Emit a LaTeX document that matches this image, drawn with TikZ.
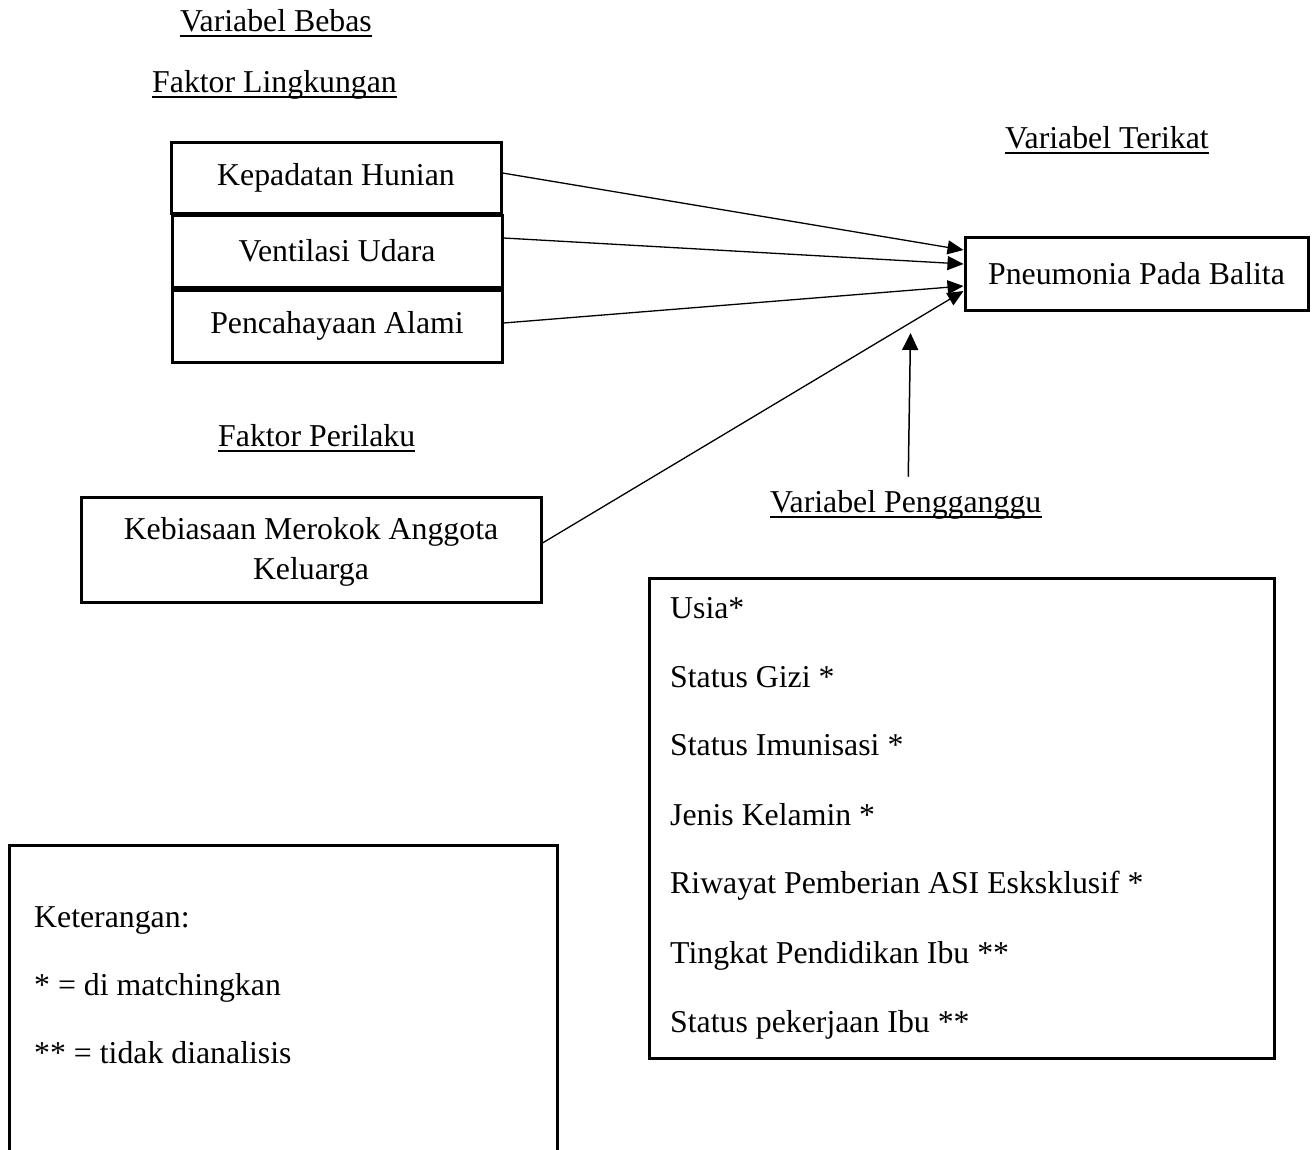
\documentclass[tikz,border=0pt]{standalone}
\usepackage{fontspec}
\setmainfont{Liberation Serif}
\usetikzlibrary{arrows.meta}
\begin{document}
\begin{tikzpicture}[x=1pt,y=-1pt,
  every node/.style={font=\fontsize{31.8}{40}\selectfont, inner sep=0pt},
  box/.style={draw, line width=3pt, rectangle, align=center},
  lbl/.style={anchor=base west},
  ul/.style={line width=1.8pt},
  conn/.style={line width=1.3pt, -{Triangle[length=16pt,width=14pt]}}]
\useasboundingbox (0,0) rectangle (1312,1149);

% titles
\node[lbl] (vb) at (180,31) {Variabel Bebas};
\node[lbl] (fl) at (152,92) {Faktor Lingkungan};
\node[lbl] (vt) at (1005,148) {Variabel Terikat};
\node[lbl] (fp) at (218,446) {Faktor Perilaku};
\node[lbl] (vp) at (770,512) {Variabel Pengganggu};
\foreach \t in {vb,fl,vt,fp,vp}
  \draw[ul] ([yshift=-5pt]\t.base west) -- ([yshift=-5pt]\t.base east);

% boxes
\node[box, minimum width=330pt, minimum height=71pt] (kep) at (336,177.5) {Kepadatan Hunian};
\node[box, minimum width=330pt, minimum height=72pt] (ven) at (337,251) {Ventilasi Udara};
\node[box, minimum width=330pt, minimum height=72pt] (pen) at (337,326) {Pencahayaan Alami};
\node[box, minimum width=343pt, minimum height=73pt] (pn) at (1136.5,273.5) {Pneumonia Pada Balita};
\node[box, minimum width=460pt, minimum height=105pt] (keb) at (311,549.5) {};
\node (kebt) at (311,552) [align=center] {Kebiasaan Merokok Anggota\\Keluarga};
\node[box, minimum width=625pt, minimum height=480pt] (conf) at (961.5,818) {};

% confounders
\node[lbl] (c1) at (670,618) {Usia*};
\node[lbl] (c2) at (670,687) {Status Gizi *};
\node[lbl] (c3) at (670,755) {Status Imunisasi *};
\node[lbl] (c4) at (670,825) {Jenis Kelamin *};
\node[lbl] (c5) at (670,893) {Riwayat Pemberian ASI Esksklusif *};
\node[lbl] (c6) at (670,963) {Tingkat Pendidikan Ibu **};
\node[lbl] (c7) at (670,1032) {Status pekerjaan Ibu **};

% legend box (open at the bottom)
\draw[line width=3pt] (9,1150) -- (9,845) -- (557,845) -- (557,1150);
\node[lbl] (k1) at (34,927) {Keterangan:};
\node[lbl] (k2) at (34,995) {* = di matchingkan};
\node[lbl] (k3) at (34,1063) {** = tidak dianalisis};

% connectors
\draw[conn] ([yshift=4.5pt]kep.east) -- ([yshift=23.5pt]pn.west);
\draw[conn] ([yshift=13pt]ven.east) -- ([yshift=9.5pt]pn.west);
\draw[conn] ([yshift=3pt]pen.east) -- ([yshift=-12.5pt]pn.west);
\draw[conn] ([yshift=6.5pt]keb.east) -- ([yshift=-17.5pt]pn.west);
\coordinate (vtip) at (910.5,333);
\draw[line width=1.5pt, -{Triangle[length=17pt,width=16pt]}] ([xshift=2.5pt,yshift=13pt]vp.north) -- (vtip);
\end{tikzpicture}
\end{document}
